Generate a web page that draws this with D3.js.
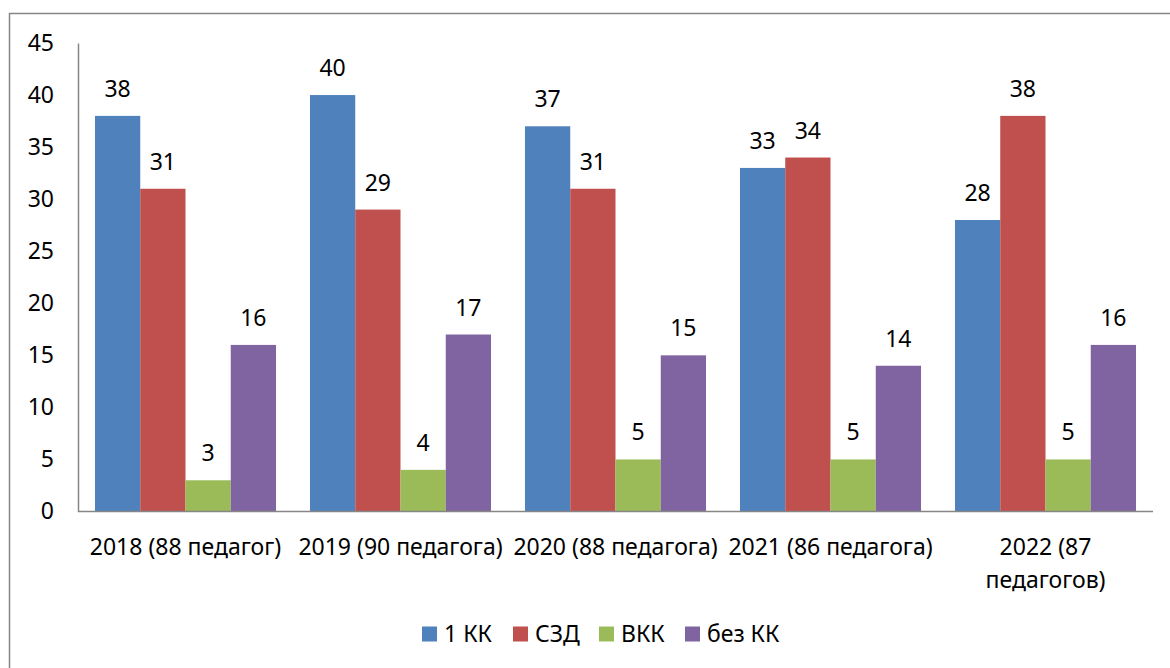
<!DOCTYPE html>
<html>
<head>
<meta charset="utf-8">
<script src="https://cdn.jsdelivr.net/npm/d3@7"></script>
<style>
  body { margin: 0; background: #fff; }
  text { font-family: "Noto Sans", "Open Sans", sans-serif; fill: #000; }
</style>
</head>
<body>
<svg width="1170" height="668"></svg>
<script>
// Categories (years) and series values
var categories = [
  ['2018 (88 педагог)'],
  ['2019 (90 педагога)'],
  ['2020 (88 педагога)'],
  ['2021 (86 педагога)'],
  ['2022 (87', 'педагогов)']
];
var seriesNames = ['1 КК', 'СЗД', 'ВКК', 'без КК'];
var kk1 = [38, 40, 37, 33, 28];
var szd = [31, 29, 31, 34, 38];
var vkk = [3, 4, 5, 5, 5];
var bezKK = [16, 17, 15, 14, 16];
var yTicks = [0, 5, 10, 15, 20, 25, 30, 35, 40, 45];

var colors = ['#4F81BD', '#C0504D', '#9BBB59', '#8064A2'];
var series = [kk1, szd, vkk, bezKK];
var fontSize = 23;

var svg = d3.select('svg');

// Outer frame (left and top edges visible)
svg.append('path')
  .attr('d', 'M9.5,668 L9.5,13.5 L1170,13.5')
  .attr('fill', 'none')
  .attr('stroke', '#868686')
  .attr('stroke-width', 1.5);

var plotLeft = 78, plotRight = 1153, plotTop = 43, plotBottom = 511.5;

var x0 = d3.scaleBand()
  .domain(d3.range(categories.length))
  .range([plotLeft, plotRight])
  .paddingInner(0.158)
  .paddingOuter(0.079);

var x1 = d3.scaleBand()
  .domain(d3.range(series.length))
  .range([0, x0.bandwidth()]);

var y = d3.scaleLinear().domain([0, 45]).range([plotBottom, plotTop]);

// Bars and value labels
series.forEach(function (vals, s) {
  var g = svg.append('g');
  g.selectAll('rect')
    .data(vals)
    .enter().append('rect')
    .attr('x', function (d, i) { return x0(i) + x1(s); })
    .attr('y', function (d) { return y(d); })
    .attr('width', x1.bandwidth())
    .attr('height', function (d) { return plotBottom - y(d); })
    .attr('fill', colors[s]);
  g.selectAll('text')
    .data(vals)
    .enter().append('text')
    .attr('x', function (d, i) { return x0(i) + x1(s) + x1.bandwidth() / 2; })
    .attr('y', function (d) { return y(d) - 27; })
    .attr('dy', '0.35em')
    .attr('text-anchor', 'middle')
    .attr('font-size', fontSize)
    .text(function (d) { return d; });
});

// Y axis
var yAxis = svg.append('g')
  .attr('transform', 'translate(' + plotLeft + ',0)')
  .call(d3.axisLeft(y).tickValues(yTicks).tickSize(0).tickPadding(24));
yAxis.select('.domain').attr('stroke', '#868686').attr('stroke-width', 1.5);
yAxis.selectAll('text').attr('font-size', fontSize).attr('font-family', '"Noto Sans", sans-serif');

// X axis line
svg.append('line')
  .attr('x1', plotLeft).attr('x2', plotRight)
  .attr('y1', plotBottom).attr('y2', plotBottom)
  .attr('stroke', '#868686').attr('stroke-width', 1.5);

// Category labels
var catLabels = svg.append('g').selectAll('text')
  .data(categories)
  .enter().append('text')
  .attr('text-anchor', 'middle')
  .attr('font-size', fontSize)
  .attr('x', function (d, i) { return x0(i) + x0.bandwidth() / 2; })
  .attr('y', 547);
catLabels.selectAll('tspan')
  .data(function (d) { return d; })
  .enter().append('tspan')
  .attr('x', function () { return d3.select(this.parentNode).attr('x'); })
  .attr('dy', function (d, i) { return i === 0 ? '0.35em' : 33; })
  .text(function (d) { return d; });

// Legend
var legendX = [422, 513, 599, 685];
var legend = svg.append('g').selectAll('g')
  .data(seriesNames)
  .enter().append('g')
  .attr('transform', function (d, i) { return 'translate(' + legendX[i] + ',634)'; });
legend.append('rect')
  .attr('x', 0).attr('y', -7.5)
  .attr('width', 15).attr('height', 15)
  .attr('fill', function (d, i) { return colors[i]; });
legend.append('text')
  .attr('x', 22).attr('dy', '0.35em')
  .attr('font-size', fontSize)
  .text(function (d) { return d; });
</script>
</body>
</html>
